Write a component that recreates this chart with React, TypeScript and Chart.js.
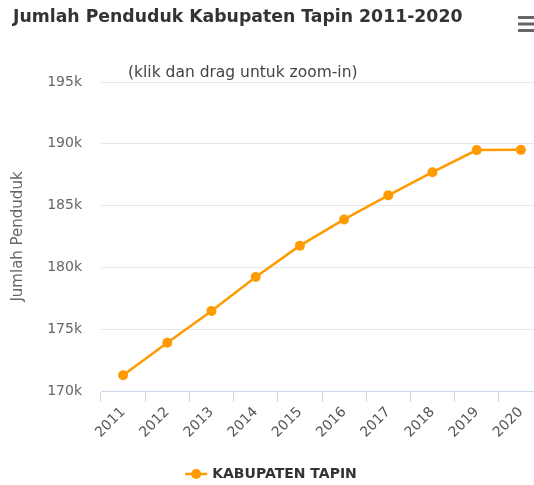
import React, { useEffect, useRef } from "react";
import { Chart, registerables } from "chart.js";

Chart.register(...registerables);

const years = ["2011", "2012", "2013", "2014", "2015", "2016", "2017", "2018", "2019", "2020"];
const population = [171280, 173900, 176480, 179220, 181760, 183880, 185830, 187700, 189490, 189510];
const yMin = 170000;
const yMax = 195000;
const yStep = 5000;
const titleText = "Jumlah Penduduk Kabupaten Tapin 2011-2020";
const subtitleText = "(klik dan drag untuk zoom-in)";
const seriesName = "KABUPATEN TAPIN";
const yAxisTitle = "Jumlah Penduduk";

const FONT = '"DejaVu Sans", sans-serif';
const ORANGE = "#ff9a00";

const decorPlugin = {
  id: "decor",
  afterDraw(chart: any) {
    const ctx = chart.ctx;
    ctx.save();
    // title
    ctx.fillStyle = "#333333";
    ctx.textBaseline = "middle";
    ctx.textAlign = "left";
    ctx.font = `bold 17.3px ${FONT}`;
    ctx.fillText(titleText, 13, 18);
    // subtitle
    ctx.fillStyle = "#444444";
    ctx.font = `15.5px ${FONT}`;
    ctx.fillText(subtitleText, 128, 73);
    // menu icon
    ctx.fillStyle = "#666666";
    for (let i = 0; i < 3; i++) {
      ctx.fillRect(518, 16 + i * 6.5, 18, 3);
    }
    // legend
    ctx.font = `bold 14px ${FONT}`;
    const tw = ctx.measureText(seriesName).width;
    const symW = 22;
    const gap = 5;
    const total = symW + gap + tw;
    const x0 = chart.width / 2 - total / 2 - 3;
    const ly = 474;
    ctx.strokeStyle = ORANGE;
    ctx.lineWidth = 2.5;
    ctx.beginPath();
    ctx.moveTo(x0, ly);
    ctx.lineTo(x0 + symW, ly);
    ctx.stroke();
    ctx.fillStyle = ORANGE;
    ctx.beginPath();
    ctx.arc(x0 + symW / 2, ly, 5, 0, Math.PI * 2);
    ctx.fill();
    ctx.fillStyle = "#333333";
    ctx.fillText(seriesName, x0 + symW + gap, ly);
    ctx.restore();
  },
};

export default function App() {
  const ref = useRef<HTMLCanvasElement>(null);
  useEffect(() => {
    const canvas = ref.current;
    if (!canvas) return;
    const chart = new Chart(canvas, {
      type: "line",
      data: {
        labels: years,
        datasets: [
          {
            label: seriesName,
            data: population,
            borderColor: ORANGE,
            backgroundColor: ORANGE,
            borderWidth: 2.5,
            pointRadius: 5,
            pointBorderWidth: 0,
            pointBackgroundColor: ORANGE,
            tension: 0,
            fill: false,
          },
        ],
      },
      options: {
        responsive: false,
        animation: false,
        devicePixelRatio: 1,
        layout: { padding: { top: 82, left: 0, right: 4, bottom: 0 } },
        plugins: {
          legend: { display: false },
          title: { display: false },
          tooltip: { enabled: false },
        },
        scales: {
          x: {
            type: "category",
            offset: true,
            grid: {
              offset: true,
              drawOnChartArea: false,
              drawTicks: true,
              tickLength: 11,
              color: "#ccd6eb",
            },
            border: { display: true, color: "#ccd6eb", width: 1 },
            ticks: {
              minRotation: 45,
              maxRotation: 45,
              autoSkip: false,
              padding: 2,
              color: "#555555",
              font: { family: FONT, size: 14 },
            },
            afterFit: (scale: any) => {
              scale.height = 94;
            },
          },
          y: {
            min: yMin,
            max: yMax,
            ticks: {
              stepSize: yStep,
              padding: 19,
              color: "#666666",
              font: { family: FONT, size: 14 },
              callback: (v: any) => `${Number(v) / 1000}k`,
            },
            grid: { color: "#e6e6e6", drawTicks: false, lineWidth: 1 },
            border: { display: false },
            title: {
              display: true,
              text: yAxisTitle,
              color: "#666666",
              font: { family: FONT, size: 15 },
              padding: { top: 9, bottom: 0 },
            },
            afterFit: (scale: any) => {
              scale.width = 101;
            },
          },
        },
      },
      plugins: [decorPlugin],
    });
    return () => chart.destroy();
  }, []);
  return (
    <div
      style={{
        position: "fixed",
        left: 0,
        top: 0,
        width: 534,
        height: 485,
        overflow: "hidden",
        background: "#ffffff",
      }}
    >
      <canvas ref={ref} width={548} height={485} style={{ width: 548, height: 485, display: "block" }} />
    </div>
  );
}
